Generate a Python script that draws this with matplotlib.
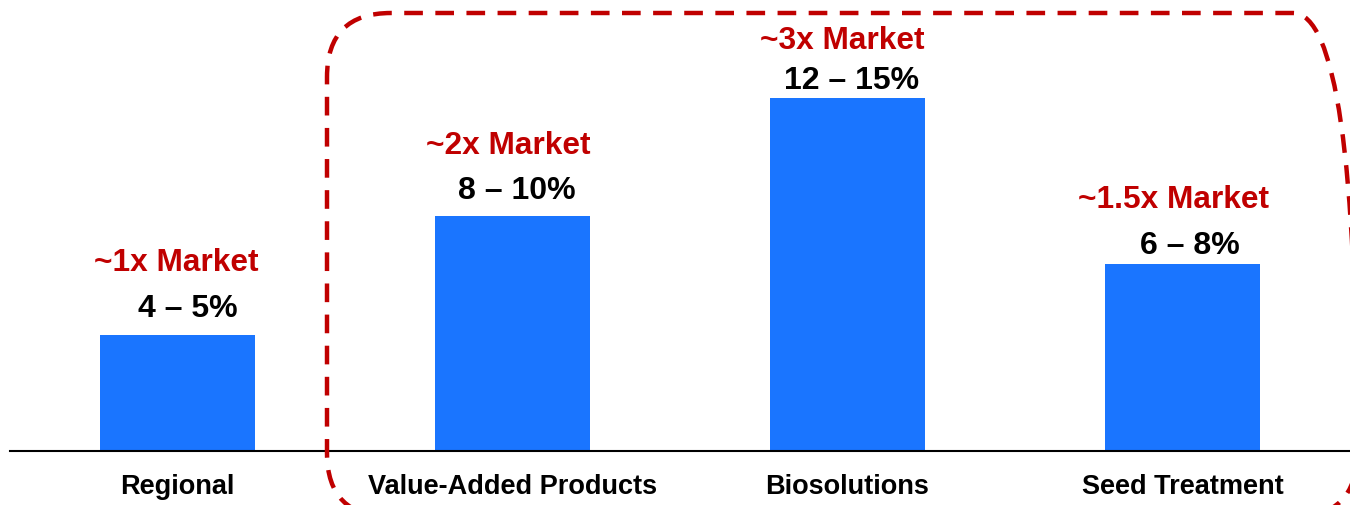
import matplotlib.pyplot as plt
from matplotlib.patches import FancyBboxPatch

plt.rcParams['font.family'] = ['Liberation Sans', 'DejaVu Sans']

categories = ["Regional", "Value-Added Products", "Biosolutions", "Seed Treatment"]
growth = [4.45, 9, 13.5, 7.15]   # roughly the middle of each range
ranges = ["4 \u2013 5%", "8 \u2013 10%", "12 \u2013 15%", "6 \u2013 8%"]
multiples = ["~1x Market", "~2x Market", "~3x Market", "~1.5x Market"]

blue = "#1A75FF"
red = "#C00000"

fig = plt.figure(figsize=(13.5, 5.05), dpi=100)
ax = fig.add_axes([10 / 1350, 54 / 505, 1340 / 1350, 444 / 505])

x = range(len(categories))
bars = ax.bar(x, growth, width=0.465, color=blue)
ax.set_xlim(-0.5, 3.5)
ax.set_ylim(0, 17)

# label offsets above each bar top, in pixels (dx, dy)
range_off = [(10, 26), (4, 25), (4, 17), (7, 18)]
mult_off = [(-1, 72), (-4, 70), (-5, 57), (-9, 64)]

for b, r, m, ro, mo in zip(bars, ranges, multiples, range_off, mult_off):
    cx = b.get_x() + b.get_width() / 2
    top = b.get_height()
    ax.annotate(r, (cx, top), xytext=(ro[0] * 0.72, ro[1] * 0.72), textcoords="offset points",
                ha="center", va="center", fontsize=23, fontweight="bold", color="black")
    ax.annotate(m, (cx, top), xytext=(mo[0] * 0.72, mo[1] * 0.72), textcoords="offset points",
                ha="center", va="center", fontsize=22.8, fontweight="bold", color=red)

ax.set_xticks(list(x))
ax.set_xticklabels(categories, fontsize=19.5, fontweight="bold")
ax.tick_params(axis="x", length=0, pad=16.5)
ax.set_yticks([])
for s in ["top", "right", "left"]:
    ax.spines[s].set_visible(False)
ax.spines["bottom"].set_linewidth(1.5)

# dashed rounded box around the three growth segments
box = FancyBboxPatch((3.27, -0.12), 10.3, 5.04,
                     boxstyle="round,pad=0,rounding_size=0.64",
                     transform=fig.dpi_scale_trans, fill=False,
                     edgecolor=red, linewidth=3.2, linestyle=(0, (4.2, 2.8)),
                     clip_on=False)
fig.add_artist(box)

fig.savefig("out.png", dpi=100)
